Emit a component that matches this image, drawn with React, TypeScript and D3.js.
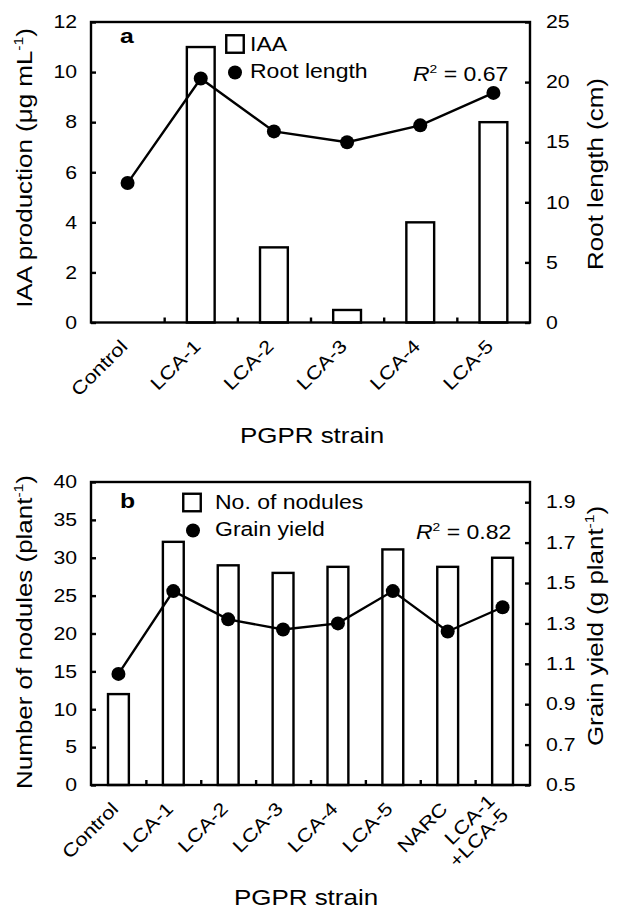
import React, { useEffect, useRef } from "react";
import * as d3 from "d3";

// panel a
const categoriesA = ["Control", "LCA-1", "LCA-2", "LCA-3", "LCA-4", "LCA-5"];
const iaaValues = [0, 11, 3, 0.5, 4, 8];
const rootLengthValues = [11.6, 20.3, 15.9, 15.0, 16.4, 19.1];
const leftTicksA = [0, 2, 4, 6, 8, 10, 12];
const rightTicksA = [0, 5, 10, 15, 20, 25];

// panel b
const categoriesB = ["Control", "LCA-1", "LCA-2", "LCA-3", "LCA-4", "LCA-5", "NARC", "LCA-1 +LCA-5"];
const noduleValues = [12, 32.1, 29, 28, 28.8, 31.1, 28.8, 30];
const grainYieldValues = [1.05, 1.46, 1.32, 1.27, 1.3, 1.46, 1.26, 1.38];
const leftTicksB = [0, 5, 10, 15, 20, 25, 30, 35, 40];
const rightTicksB = [0.5, 0.7, 0.9, 1.1, 1.3, 1.5, 1.7, 1.9];

const FONT = "'Liberation Sans', Arial, Helvetica, sans-serif";
const SX = 1.18; // the figure's font is wider than Arial
const SW = 2.4;
const X0 = 91;
const X1 = 530;

type Part = { t: string; sup?: boolean; italic?: boolean };

function addText(parent: any, x: number, y: number, parts: Part[], size: number,
  anchor = "start", rotate = 0, weight = "normal") {
  const text = parent.append("text")
    .attr("transform", `translate(${x},${y}) rotate(${rotate}) scale(${SX},1)`)
    .attr("text-anchor", anchor)
    .attr("font-size", size)
    .attr("font-weight", weight)
    .attr("font-family", FONT)
    .attr("fill", "#000");
  let cur = 0;
  parts.forEach((p) => {
    const target = p.sup ? -size * 0.42 : 0;
    const ts = text.append("tspan").text(p.t).attr("dy", target - cur);
    cur = target;
    if (p.sup) ts.attr("font-size", size * 0.6);
    if (p.italic) ts.attr("font-style", "italic");
  });
  return text;
}

function styleAxis(g: any) {
  g.attr("font-size", null).attr("font-family", null);
  g.select(".domain").remove();
  g.selectAll(".tick line").attr("stroke", "#000").attr("stroke-width", SW);
  g.selectAll(".tick text").each(function (this: any) {
    const t = d3.select(this);
    const x = +t.attr("x") || 0;
    t.attr("x", null).attr("transform", `translate(${x},0) scale(${SX},1)`);
  })
    .attr("font-size", 18)
    .attr("font-family", FONT)
    .attr("fill", "#000");
}

function drawPanel(svg: any, p: any) {
  const g = svg.append("g");
  const n = p.cats.length;
  const x = d3.scaleBand().domain(p.cats).range([X0, X1]).padding(0);
  const xIdx = d3.scaleLinear().domain([0, n]).range([X0, X1]);
  const yL = d3.scaleLinear().domain(p.leftDomain).range([p.bottom, p.top]);
  const yR = d3.scaleLinear().domain(p.rightDomain).range([p.bottom, p.top]);
  const bw = x.bandwidth();
  const barW = bw * 0.38;
  const cx = (c: string) => (x(c) as number) + bw / 2;

  // bars
  g.selectAll("rect.bar")
    .data(p.bars.map((v: number, i: number) => ({ c: p.cats[i], v })).filter((d: any) => d.v > 0))
    .enter().append("rect")
    .attr("class", "bar")
    .attr("x", (d: any) => cx(d.c) - barW / 2)
    .attr("width", barW)
    .attr("y", (d: any) => yL(d.v))
    .attr("height", (d: any) => p.bottom - yL(d.v))
    .attr("fill", "#fff")
    .attr("stroke", "#000")
    .attr("stroke-width", SW);

  // frame
  g.append("rect")
    .attr("x", X0).attr("y", p.top)
    .attr("width", X1 - X0).attr("height", p.bottom - p.top)
    .attr("fill", "none").attr("stroke", "#000").attr("stroke-width", SW);

  // axes
  const gl = g.append("g").attr("transform", `translate(${X0},0)`)
    .call(d3.axisLeft(yL).tickValues(p.leftTicks).tickSizeInner(-5).tickSizeOuter(0)
      .tickPadding(14).tickFormat(d3.format("d")));
  styleAxis(gl);
  const gr = g.append("g").attr("transform", `translate(${X1},0)`)
    .call(d3.axisRight(yR).tickValues(p.rightTicks).tickSizeInner(-5).tickSizeOuter(0)
      .tickPadding(16).tickFormat(d3.format(p.rightFormat)));
  styleAxis(gr);
  const gb = g.append("g").attr("transform", `translate(0,${p.bottom})`)
    .call(d3.axisBottom(xIdx).tickValues(d3.range(1, n)).tickSizeInner(-5).tickSizeOuter(0)
      .tickFormat(() => ""));
  styleAxis(gb);
  gb.selectAll(".tick text").remove();

  // line + dots
  const line = d3.line<number>().x((_, i) => cx(p.cats[i])).y((v) => yR(v));
  g.append("path").datum(p.line).attr("d", line)
    .attr("fill", "none").attr("stroke", "#000").attr("stroke-width", SW);
  g.selectAll("circle.pt").data(p.line).enter().append("circle")
    .attr("class", "pt")
    .attr("cx", (_: number, i: number) => cx(p.cats[i]))
    .attr("cy", (v: number) => yR(v))
    .attr("r", 7).attr("fill", "#000");

  // category labels
  p.cats.forEach((c: string) => {
    const lines = c.split(" ");
    const t = addText(g, cx(c) + 1, p.bottom + 25, [], 18.5, "end", -45);
    lines.forEach((l, i) => {
      t.append("tspan").attr("x", 0)
        .attr("dy", lines.length > 1 ? (i === 0 ? "-0.6em" : "1.05em") : 0)
        .text(l);
    });
  });

  // legend
  const L = p.legend;
  g.append("rect")
    .attr("x", L.sq[0] - 8.75).attr("y", L.sq[1] - 8.75)
    .attr("width", 17.5).attr("height", 17.5)
    .attr("fill", "#fff").attr("stroke", "#000").attr("stroke-width", SW);
  addText(g, L.textX, L.barY, [{ t: p.barLabel }], 19.5);
  g.append("circle").attr("cx", L.dot[0]).attr("cy", L.dot[1]).attr("r", 7).attr("fill", "#000");
  addText(g, L.textX, L.lineY, [{ t: p.lineLabel }], 19.5);

  addText(g, p.letterPos[0], p.letterPos[1], [{ t: p.letter }], 21, "start", 0, "bold");
  addText(g, p.r2Pos[0], p.r2Pos[1], [{ t: "R", italic: true }, { t: "2", sup: true }, { t: " = " + p.r2 }], 19.5);

  // axis titles
  addText(g, p.xTitle[0], p.xTitle[1], [{ t: "PGPR strain" }], 22, "middle");
  addText(g, 32, p.leftTitleY, p.leftTitle, 22, "middle", -90);
  addText(g, 603, p.rightTitleY, p.rightTitle, 22, "middle", -90);
}

const panels = [
  {
    letter: "a", top: 22, bottom: 322.5,
    cats: categoriesA, bars: iaaValues, line: rootLengthValues,
    leftDomain: [0, 12], rightDomain: [0, 25],
    leftTicks: leftTicksA, rightTicks: rightTicksA, rightFormat: "d",
    barLabel: "IAA", lineLabel: "Root length", r2: "0.67",
    legend: { sq: [235, 44], textX: 250, barY: 51, dot: [235, 72.5], lineY: 78 },
    letterPos: [120, 43], r2Pos: [413, 81], xTitle: [312, 443],
    leftTitle: [{ t: "IAA production (μg mL" }, { t: "-1", sup: true }, { t: ")" }],
    rightTitle: [{ t: "Root length (cm)" }],
    leftTitleY: 168, rightTitleY: 174,
  },
  {
    letter: "b", top: 482, bottom: 785,
    cats: categoriesB, bars: noduleValues, line: grainYieldValues,
    leftDomain: [0, 40], rightDomain: [0.5, 2.0],
    leftTicks: leftTicksB, rightTicks: rightTicksB, rightFormat: ".1f",
    barLabel: "No. of nodules", lineLabel: "Grain yield", r2: "0.82",
    legend: { sq: [192, 502.5], textX: 215, barY: 509, dot: [193, 530.5], lineY: 536 },
    letterPos: [120, 508], r2Pos: [416, 539], xTitle: [306, 905],
    leftTitle: [{ t: "Number of nodules (plant" }, { t: "-1", sup: true }, { t: ")" }],
    rightTitle: [{ t: "Grain yield (g plant" }, { t: "-1", sup: true }, { t: ")" }],
    leftTitleY: 632, rightTitleY: 626,
  },
];

export default function App() {
  const ref = useRef<SVGSVGElement>(null);

  useEffect(() => {
    const svg = d3.select(ref.current);
    svg.selectAll("*").remove();
    panels.forEach((p) => drawPanel(svg, p));
  }, []);

  return (
    <svg ref={ref} width={618} height={910}
      style={{ position: "absolute", left: 0, top: 0, background: "#fff" }} />
  );
}
